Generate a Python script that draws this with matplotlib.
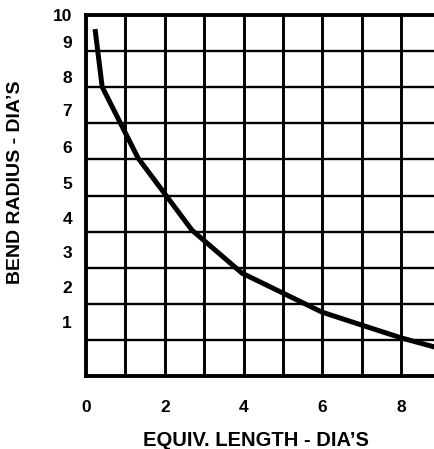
import matplotlib.pyplot as plt
import numpy as np

# curve (x = equiv. length, y in grid units)
length = [0.23, 0.41, 1.32, 2.69, 3.96, 5.99, 7.0, 8.02, 8.86]
radius = [9.61, 8.01, 6.04, 4.04, 2.85, 1.77, 1.41, 1.05, 0.80]

x_ticks = [0, 2, 4, 6, 8]
y_labels = ["1", "2", "3", "4", "5", "6", "7", "8", "9", "10"]
# where the y labels sit on the grid (they are not on the lines)
y_label_pos = [1.50, 2.46, 3.43, 4.39, 5.34, 6.35, 7.37, 8.29, 9.25, 10.0]

plt.rcParams['font.family'] = ['Liberation Sans', 'DejaVu Sans']
plt.rcParams['font.weight'] = 'bold'

fig = plt.figure(figsize=(4.35, 4.49), dpi=100)
ax = fig.add_axes([86/435, 1-376/449, 1-86/435, (376-15)/449])

ax.plot(length, radius, color="black", lw=3.6, solid_capstyle="butt", zorder=3)

ax.set_xlim(0, 8.86)
ax.set_ylim(0, 10)

# grid every unit
for gx in np.arange(1, 9):
    ax.axvline(gx, color="black", lw=2.1, zorder=2)
for gy in np.arange(1, 10):
    ax.axhline(gy, color="black", lw=1.7, zorder=2)

ax.spines["right"].set_visible(False)
for s in ["left", "bottom", "top"]:
    ax.spines[s].set_linewidth(2.8)

ax.set_xticks(x_ticks)
ax.set_xticklabels([str(v) for v in x_ticks], fontsize=12.5, fontweight="bold")
ax.set_yticks(y_label_pos)
ax.set_yticklabels(y_labels, fontsize=12.5, fontweight="bold")
ax.tick_params(axis="x", length=0, pad=17)
ax.tick_params(axis="y", length=0, pad=10)

fig.text(256/435, 1-440/449, "EQUIV. LENGTH - DIA\u2019S", ha="center", va="center",
         fontsize=14.5, fontweight="bold")
fig.text(16/435, 1-182/449, "BEND RADIUS - DIA\u2019S", ha="center", va="center",
         rotation=90, fontsize=14, fontweight="bold")

fig.savefig("out.png", dpi=100)
